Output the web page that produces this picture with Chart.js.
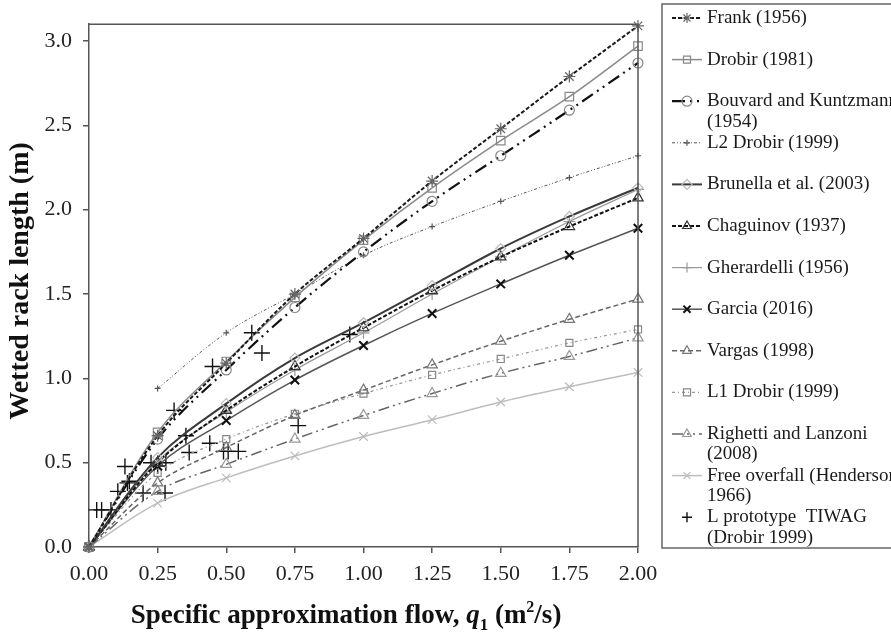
<!DOCTYPE html>
<html>
<head>
<meta charset="utf-8">
<script src="https://cdn.jsdelivr.net/npm/chart.js@4.4.1/dist/chart.umd.min.js"></script>
<style>
  html, body { margin: 0; padding: 0; background: #fff; }
  #wrap { width: 891px; height: 637px; position: relative; }
</style>
</head>
<body>
<div id="wrap"><canvas id="rackChart" width="891" height="637"></canvas></div>
<script>
/** values **/
var flowValues = [0, 0.25, 0.5, 0.75, 1.0, 1.25, 1.5, 1.75, 2.0];
var frank = [0, 0.66, 1.09, 1.50, 1.83, 2.17, 2.48, 2.79, 3.09];
var drobir1981 = [0, 0.68, 1.10, 1.48, 1.82, 2.13, 2.41, 2.67, 2.97];
var bouvard = [0, 0.64, 1.05, 1.42, 1.75, 2.05, 2.32, 2.59, 2.87];
var l2Drobir = [null, 0.94, 1.27, 1.50, 1.73, 1.90, 2.05, 2.19, 2.32];
var brunella = [0, 0.53, 0.85, 1.12, 1.33, 1.55, 1.77, 1.96, 2.13];
var chaguinov = [0, 0.50, 0.81, 1.07, 1.30, 1.52, 1.72, 1.90, 2.07];
var gherardelli = [0, 0.51, 0.80, 1.05, 1.27, 1.50, 1.72, 1.93, 2.12];
var garcia = [0, 0.48, 0.75, 0.99, 1.195, 1.385, 1.56, 1.73, 1.89];
var vargas = [0, 0.38, 0.59, 0.78, 0.93, 1.08, 1.22, 1.35, 1.47];
var l1Drobir = [0, 0.44, 0.64, 0.79, 0.91, 1.02, 1.115, 1.21, 1.29];
var righetti = [0, 0.33, 0.49, 0.64, 0.78, 0.91, 1.03, 1.13, 1.24];
var freeOverfall = [0, 0.26, 0.41, 0.54, 0.655, 0.755, 0.86, 0.95, 1.035];

var tiwagFlow = [0.028, 0.046, 0.08, 0.105, 0.131, 0.14, 0.147, 0.197, 0.226, 0.25, 0.277, 0.28,
                 0.31, 0.353, 0.365, 0.44, 0.45, 0.49, 0.507, 0.544, 0.593, 0.63, 0.762, 0.95];
var tiwagLength = [0.22, 0.22, 0.22, 0.33, 0.477, 0.38, 0.39, 0.32, 0.50, 0.48, 0.32, 0.50,
                   0.81, 0.66, 0.56, 0.615, 1.07, 0.567, 0.567, 0.567, 1.27, 1.15, 0.72, 1.26];

var flowTicks = [0, 0.25, 0.5, 0.75, 1.0, 1.25, 1.5, 1.75, 2.0];
var lengthTicks = [0, 0.5, 1.0, 1.5, 2.0, 2.5, 3.0];

var serif = "'Liberation Serif', 'Times New Roman', serif";

function pts(xs, ys) {
    var out = [];
    for (var i = 0; i < xs.length; i++) {
        if (ys[i] === null) continue;
        out.push({x: xs[i], y: ys[i]});
    }
    return out;
}

function series(label, ys, line, dash, width, marker, markerColor, radius, markerWidth) {
    return {
        label: label,
        data: pts(flowValues, ys),
        borderColor: line,
        borderDash: dash,
        borderWidth: width,
        pointStyle: marker,
        pointRadius: radius,
        pointBorderColor: markerColor,
        pointBorderWidth: markerWidth || 1.2,
        pointBackgroundColor: 'rgba(255,255,255,0)',
        tension: 0.35,
        fill: false,
        clip: 10
    };
}

var datasets = [
    series("Frank (1956)", frank, '#1a1a1a', [4, 2], 2, 'star', '#666', 6),
    series("Drobir (1981)", drobir1981, '#8a8a8a', [], 1.5, 'rect', '#888', 6),
    series("Bouvard and Kuntzmann\n(1954)", bouvard, '#111', [13, 5, 2, 5, 2, 5], 2.2, 'circle', '#888', 5),
    series("L2 Drobir (1999)", l2Drobir, '#555', [3, 2, 1, 2, 1, 2], 1, 'cross', '#555', 3),
    series("Brunella et al. (2003)", brunella, '#3a3a3a', [], 2, 'rectRot', '#bbb', 5),
    series("Chaguinov (1937)", chaguinov, '#111', [4, 2], 2, 'triangle', '#333', 6),
    series("Gherardelli (1956)", gherardelli, '#9a9a9a', [], 1.2, 'cross', '#999', 6),
    series("Garcia (2016)", garcia, '#555', [], 1.5, 'crossRot', '#111', 6, 2),
    series("Vargas (1998)", vargas, '#666', [5, 3], 1.5, 'triangle', '#777', 6),
    series("L1 Drobir (1999)", l1Drobir, '#999', [3, 3, 1, 3], 1.3, 'rect', '#888', 5),
    series("Righetti and Lanzoni\n(2008)", righetti, '#666', [11, 4, 2, 4, 2, 4], 1.5, 'triangle', '#999', 6),
    series("Free overfall (Henderson\n1966)", freeOverfall, '#bdbdbd', [], 1.5, 'crossRot', '#bbb', 6)
];
datasets.push({
    label: "L prototype  TIWAG\n(Drobir 1999)",
    data: pts(tiwagFlow, tiwagLength),
    showLine: false,
    borderColor: '#111',
    pointStyle: 'cross',
    pointRadius: 8,
    pointBorderColor: '#111',
    pointBorderWidth: 1.4,
    clip: 10
});

/** frame, axis titles and the boxed legend on the right **/
var decorPlugin = {
    id: 'decor',
    afterDraw: function(chart) {
        var ctx = chart.ctx;
        var a = chart.chartArea;
        ctx.save();
        // top + right edges of plot box
        ctx.strokeStyle = '#555';
        ctx.lineWidth = 1.5;
        ctx.beginPath();
        ctx.moveTo(a.left, a.top);
        ctx.lineTo(a.right, a.top);
        ctx.lineTo(a.right, a.bottom);
        ctx.stroke();

        // y title
        ctx.fillStyle = '#111';
        ctx.font = "bold 28px " + serif;
        ctx.textAlign = 'center';
        ctx.textBaseline = 'middle';
        ctx.save();
        ctx.translate(21, 281);
        ctx.rotate(-Math.PI / 2);
        ctx.fillText("Wetted rack length (m)", 0, 0);
        ctx.restore();

        // x title with italic q and subscript 1
        var parts = [
            {t: "Specific approximation flow, ", f: "bold 27px " + serif, dy: 0},
            {t: "q", f: "italic bold 27px " + serif, dy: 0},
            {t: "1", f: "bold 17px " + serif, dy: 7},
            {t: " (m", f: "bold 27px " + serif, dy: 0},
            {t: "2", f: "bold 16px " + serif, dy: -11},
            {t: "/s)", f: "bold 27px " + serif, dy: 0}
        ];
        var total = 0;
        parts.forEach(function(p) { ctx.font = p.f; p.w = ctx.measureText(p.t).width; total += p.w; });
        var x = 346 - total / 2;
        ctx.textAlign = 'left';
        ctx.textBaseline = 'alphabetic';
        parts.forEach(function(p) {
            ctx.font = p.f;
            ctx.fillText(p.t, x, 623 + p.dy);
            x += p.w;
        });

        // legend box
        ctx.strokeStyle = '#666';
        ctx.lineWidth = 1.5;
        ctx.strokeRect(662, 4, 240, 544);
        ctx.font = "19px " + serif;
        ctx.textBaseline = 'middle';
        var y = 18;
        chart.data.datasets.forEach(function(ds) {
            var lines = ds.label.split("\n");
            if (ds.showLine !== false) {
                ctx.save();
                ctx.strokeStyle = ds.borderColor;
                ctx.lineWidth = ds.borderWidth;
                ctx.setLineDash(ds.borderDash || []);
                ctx.beginPath();
                ctx.moveTo(672, y);
                ctx.lineTo(702, y);
                ctx.stroke();
                ctx.restore();
            }
            ctx.save();
            ctx.strokeStyle = ds.pointBorderColor;
            ctx.fillStyle = 'rgba(255,255,255,0)';
            ctx.setLineDash([]);
            ctx.lineWidth = ds.pointBorderWidth;
            Chart.helpers.drawPoint(ctx, {
                pointStyle: ds.pointStyle,
                radius: Math.min(ds.pointRadius, 5),
                rotation: 0,
                borderWidth: ds.pointBorderWidth
            }, 687, y);
            ctx.restore();
            ctx.fillStyle = '#1a1a1a';
            for (var i = 0; i < lines.length; i++) {
                ctx.fillText(lines[i], 707, y + i * 20.5);
            }
            y += 41.6;
        });
        ctx.restore();
    }
};

var ctx = document.getElementById('rackChart').getContext('2d');
var chart = new Chart(ctx, {
    type: 'line',
    data: { datasets: datasets },
    plugins: [decorPlugin],
    options: {
        responsive: false,
        animation: false,
        layout: { padding: { top: 7, right: 253, left: 0, bottom: 0 } },
        plugins: {
            legend: { display: false },
            tooltip: { enabled: false }
        },
        scales: {
            x: {
                type: 'linear',
                min: 0,
                max: 2,
                afterBuildTicks: function(s) { s.ticks = flowTicks.map(function(v) { return {value: v}; }); },
                afterFit: function(s) { s.height = 90; },
                ticks: {
                    padding: 8,
                    color: '#222',
                    font: { family: serif, size: 22 },
                    callback: function(v) { return Number(v).toFixed(2); }
                },
                grid: { drawOnChartArea: false, drawTicks: true, tickLength: 6, color: '#555', lineWidth: 1.5 },
                border: { display: true, color: '#555', width: 1.5 }
            },
            y: {
                type: 'linear',
                min: 0,
                max: 3.1,
                afterBuildTicks: function(s) { s.ticks = lengthTicks.map(function(v) { return {value: v}; }); },
                afterFit: function(s) { s.width = 89; },
                ticks: {
                    padding: 11,
                    color: '#222',
                    font: { family: serif, size: 22 },
                    callback: function(v) { return Number(v).toFixed(1); }
                },
                grid: { drawOnChartArea: false, drawTicks: true, tickLength: 6, color: '#555', lineWidth: 1.5 },
                border: { display: true, color: '#555', width: 1.5 }
            }
        }
    }
});
</script>
</body>
</html>
